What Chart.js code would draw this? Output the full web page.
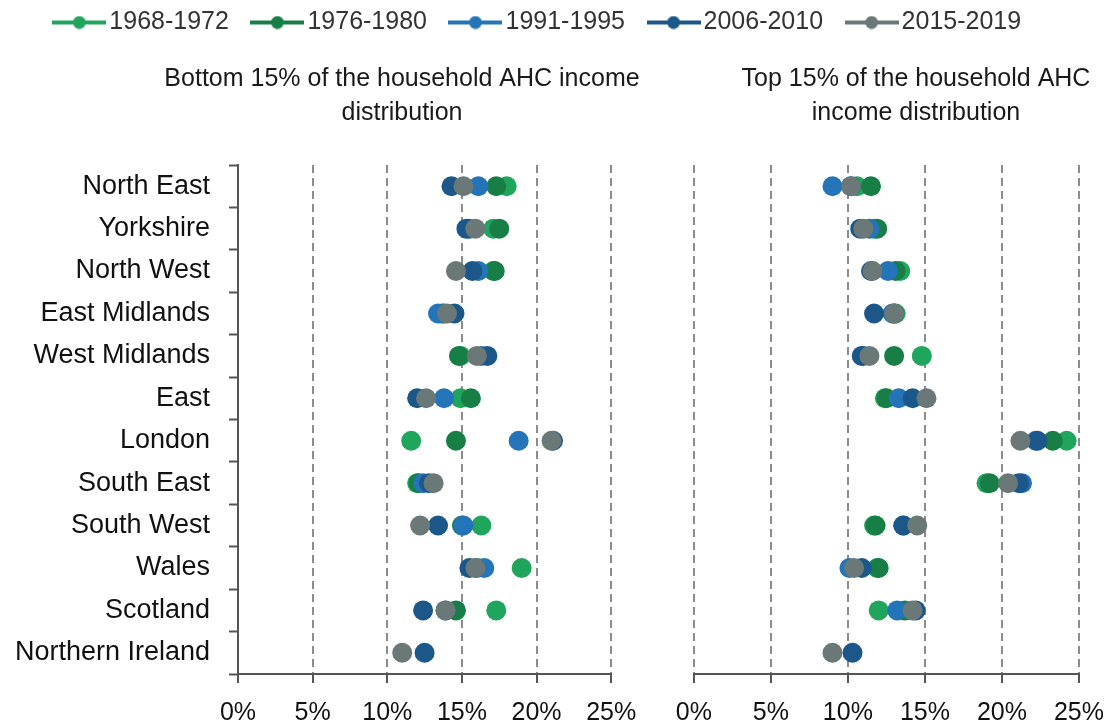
<!DOCTYPE html>
<html>
<head>
<meta charset="utf-8">
<script src="https://cdn.jsdelivr.net/npm/chart.js@4.4.0/dist/chart.umd.min.js"></script>
<style>
  html, body { margin:0; padding:0; background:#fff; }
  #wrap { width:1112px; height:724px; }
</style>
</head>
<body>
<div id="wrap"><canvas id="regionChart" width="1112" height="724"></canvas></div>
<script>
const regions = ['North East','Yorkshire','North West','East Midlands','West Midlands','East',
                 'London','South East','South West','Wales','Scotland','Northern Ireland'];
const periods = ['1968-1972','1976-1980','1991-1995','2006-2010','2015-2019'];
const periodColors = ['#1fa65c','#177f46','#2474b9','#1b5789','#6b7878'];

// share of each region's people in the bottom 15% (%)
const bottom1968 = [18.0, 17.1, 17.1, 13.8, 14.9, 14.9, 11.6, 12.0, 16.3, 19.0, 17.3, null];
const bottom1976 = [17.3, 17.5, 17.2, 13.7, 14.8, 15.6, 14.6, 12.1, 15.0, 16.0, 14.6, null];
const bottom1991 = [16.1, 15.5, 16.1, 13.4, 16.3, 13.8, 18.8, 12.4, 15.1, 16.5, 13.9, null];
const bottom2006 = [14.3, 15.3, 15.7, 14.5, 16.7, 12.0, 21.1, 12.8, 13.4, 15.5, 12.4, 12.5];
const bottom2015 = [15.1, 15.9, 14.6, 14.0, 16.0, 12.6, 21.0, 13.1, 12.2, 15.9, 13.9, 11.0];

// share of each region's people in the top 15% (%)
const top1968 = [10.6, 11.7, 13.4, 13.1, 14.8, 12.4, 24.2, 19.0, 11.7, 11.9, 12.0, null];
const top1976 = [11.5, 11.9, 13.1, 13.0, 13.0, 12.5, 23.3, 19.2, 11.8, 12.0, 13.7, null];
const top1991 = [9.0, 11.4, 12.6, 12.9, 11.0, 13.3, 22.2, 21.3, 13.6, 10.1, 13.2, null];
const top2006 = [10.2, 10.8, 11.5, 11.7, 10.9, 14.2, 22.3, 21.1, 13.6, 10.9, 14.4, 10.3];
const top2015 = [10.2, 11.0, 11.6, 13.0, 11.4, 15.1, 21.2, 20.4, 14.5, 10.4, 14.2, 9.0];

const xTicks = [0, 5, 10, 15, 20, 25];
const leftTitle = ['Bottom 15% of the household AHC income', 'distribution'];
const rightTitle = ['Top 15% of the household AHC', 'income distribution'];

Chart.defaults.font.family = '"Liberation Sans", Arial, sans-serif';

function legendMarker(color){
    const c = document.createElement('canvas');
    c.width = 54; c.height = 14;
    const g = c.getContext('2d');
    g.strokeStyle = color; g.lineWidth = 4;
    g.beginPath(); g.moveTo(0, 7); g.lineTo(54, 7); g.stroke();
    g.fillStyle = color;
    g.beginPath(); g.arc(27, 7, 6.5, 0, Math.PI * 2); g.fill();
    return c;
}

function series(values, i, axis){
    return {
        label: periods[i],
        data: values,
        xAxisID: axis,
        showLine: false,
        pointRadius: 10,
        pointHoverRadius: 10,
        pointBorderWidth: 0,
        pointBackgroundColor: periodColors[i],
        backgroundColor: periodColors[i],
        borderColor: periodColors[i],
        order: 4 - i   // later periods sit on top
    };
}

function xScale(weight, hideZero){
    return {
        type: 'linear', axis: 'x', position: 'bottom',
        stack: 'panels', stackWeight: weight,
        min: 0, max: 25,
        afterBuildTicks: s => { s.ticks = xTicks.map(v => ({ value: v })); },
        grid: {
            color: c => (hideZero && c.tick && c.tick.value === 0) ? 'rgba(0,0,0,0)' : '#8c8c8c',
            lineWidth: 2, drawTicks: true, tickLength: 9,
            tickColor: '#555', tickWidth: 2, tickBorderDash: []
        },
        border: { display: true, color: '#555', width: 2, dash: [8, 5] },
        ticks: {
            autoSkip: false, maxRotation: 0, minRotation: 0,
            font: { size: 25, lineHeight: 1.8 }, color: '#111', padding: 8,
            callback: v => v + '%'
        }
    };
}

// extra room under the legend for the panel titles
const legendSpace = {
    id: 'legendSpace',
    beforeInit(chart){
        const fit = chart.legend.fit;
        chart.legend.fit = function(){
            fit.bind(chart.legend)();
            this.height = 186;
        };
    }
};

const panelTitles = {
    id: 'panelTitles',
    afterDraw(chart){
        const ctx = chart.ctx;
        ctx.save();
        ctx.font = '25px "Liberation Sans", Arial, sans-serif';
        ctx.fillStyle = '#1a1a1a';
        ctx.textAlign = 'center';
        ctx.textBaseline = 'middle';
        leftTitle.forEach((t, i) => ctx.fillText(t, 402, 79 + i * 34));
        rightTitle.forEach((t, i) => ctx.fillText(t, 916, 79 + i * 34));
        ctx.restore();
    }
};

new Chart(document.getElementById('regionChart'), {
    type: 'line',
    data: {
        labels: regions,
        datasets: [
            series(bottom1968, 0, 'x'), series(bottom1976, 1, 'x'), series(bottom1991, 2, 'x'),
            series(bottom2006, 3, 'x'), series(bottom2015, 4, 'x'),
            series(top1968, 0, 'x2'), series(top1976, 1, 'x2'), series(top1991, 2, 'x2'),
            series(top2006, 3, 'x2'), series(top2015, 4, 'x2')
        ]
    },
    options: {
        indexAxis: 'y',
        responsive: false,
        animation: false,
        events: [],
        layout: { padding: { top: -21, right: 29, left: 0, bottom: -20 } },
        plugins: {
            tooltip: { enabled: false },
            legend: {
                position: 'top',
                labels: {
                    usePointStyle: true,
                    pointStyleWidth: 35,
                    padding: 31,
                    color: '#333',
                    font: { size: 25 },
                    generateLabels: () => periods.map((p, i) => ({
                        text: p,
                        fillStyle: periodColors[i],
                        strokeStyle: periodColors[i],
                        fontColor: '#333',
                        lineWidth: 0,
                        pointStyle: legendMarker(periodColors[i]),
                        hidden: false,
                        datasetIndex: i
                    }))
                }
            }
        },
        scales: {
            x: xScale(375, true),
            gap: {
                type: 'linear', axis: 'x', position: 'bottom',
                stack: 'panels', stackWeight: 83,
                grid: { display: false }, ticks: { display: false }, border: { display: false }
            },
            x2: xScale(387, false),
            y: {
                type: 'category', position: 'left', offset: true,
                grid: {
                    display: true, drawOnChartArea: false, drawTicks: true, offset: true,
                    tickLength: 9, tickColor: '#555', tickWidth: 2
                },
                border: { color: '#555', width: 2 },
                ticks: { autoSkip: false, font: { size: 27 }, color: '#111', padding: 19 },
                afterFit: s => { s.width = 238; }
            }
        }
    },
    plugins: [legendSpace, panelTitles]
});
</script>
</body>
</html>
